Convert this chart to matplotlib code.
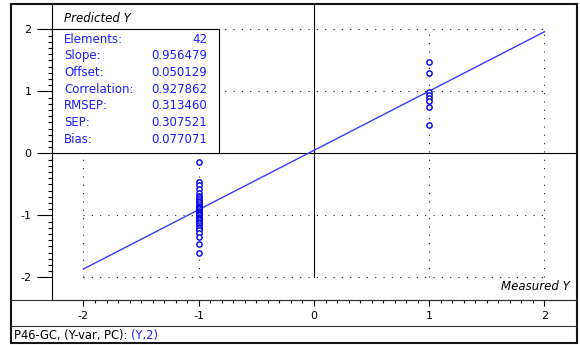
# Predicted vs measured plot for the P46-GC model (Y-var, PC 2)
import numpy as np
import matplotlib
matplotlib.use("Agg")
import matplotlib.pyplot as plt
from matplotlib.patches import Rectangle
from matplotlib.lines import Line2D
from matplotlib.ticker import FixedLocator

# measured class values and predicted Y per sample
meas_neg = -1.0
pred_neg = [-0.14, -0.46, -0.51, -0.57, -0.63, -0.68, -0.71, -0.74, -0.77, -0.79,
            -0.82, -0.84, -0.86, -0.88, -0.90, -0.92, -0.94, -0.96, -0.98, -1.00,
            -1.02, -1.04, -1.06, -1.08, -1.10, -1.12, -1.15, -1.18, -1.21, -1.24,
            -1.28, -1.34, -1.46, -1.60]
meas_pos = 1.0
pred_pos = [1.48, 1.30, 0.99, 0.95, 0.90, 0.85, 0.75, 0.46]

stat_names = ["Elements:", "Slope:", "Offset:", "Correlation:", "RMSEP:", "SEP:", "Bias:"]
stat_vals = ["42", "0.956479", "0.050129", "0.927862", "0.313460", "0.307521", "0.077071"]
slope = float(stat_vals[1])
offset = float(stat_vals[2])

ticks = [-2, -1, 0, 1, 2]
footer_a = "P46-GC, (Y-var, PC): "
footer_b = "(Y,2)"

BLUE = "#1c1cff"
W, H = 580, 345

plt.rcParams.update({"font.family": "DejaVu Sans", "font.size": 8})
fig = plt.figure(figsize=(W / 100, H / 100), dpi=100)

# main axes, placed in pixels
L, R, T, B = 52, 577, 4, 300
ax = fig.add_axes([L / W, (H - B) / H, (R - L) / W, (B - T) / H])
xmin, xmax = -2.273, 2.282
ymin, ymax = -2.363, 2.41
ax.set_xlim(xmin, xmax)
ax.set_ylim(ymin, ymax)

for s in ["top", "right"]:
    ax.spines[s].set_visible(False)
ax.spines["left"].set_linewidth(0.8)
ax.spines["left"].set_color("black")
ax.spines["bottom"].set_linewidth(0.8)
ax.spines["bottom"].set_color("#333333")

minor = [t / 10 for t in range(-20, 21) if t % 10 != 0]
ax.xaxis.set_major_locator(FixedLocator(ticks))
ax.yaxis.set_major_locator(FixedLocator(ticks))
ax.xaxis.set_minor_locator(FixedLocator(minor))
ax.yaxis.set_minor_locator(FixedLocator(minor))
ax.set_xticklabels([str(t) for t in ticks])
ax.set_yticklabels([str(t) for t in ticks])
ax.tick_params(axis="x", which="major", direction="out", length=4.3, width=0.8, pad=3.4, labelsize=8)
ax.tick_params(axis="x", which="minor", direction="out", length=2.2, width=0.8)
ax.tick_params(axis="y", which="major", direction="out", length=10.8, width=0.8, pad=4.0, labelsize=8)
ax.tick_params(axis="y", which="minor", direction="out", length=2.9, width=0.8)

# dotted grid inside [-2, 2]
dots = (0, (1, 6.5))
for g in [-2, -1, 1, 2]:
    ax.plot([-2, 2], [g, g], color="#222222", lw=0.8, ls=dots, zorder=1)
    ax.plot([g, g], [-2, 2], color="#222222", lw=0.8, ls=dots, zorder=1)

# zero lines
ax.axhline(0, color="black", lw=0.8, zorder=2)
ax.plot([0, 0], [-2, ymax], color="black", lw=0.8, zorder=2)

# regression line
xs = np.array([-2.0, 2.0])
ax.plot(xs, offset + slope * xs, color="#3a3aff", lw=1.0, zorder=3)

# samples
ax.plot([meas_neg] * len(pred_neg), pred_neg, "o", mfc="white", mec="#0000ee",
        ms=3.8, mew=1.0, zorder=4, clip_on=False)
ax.plot([meas_pos] * len(pred_pos), pred_pos, "o", mfc="white", mec="#0000ee",
        ms=3.8, mew=1.0, zorder=4, clip_on=False)

# statistics box
bx = (219 - L) / (R - L) * (xmax - xmin)
ax.add_patch(Rectangle((xmin, 0), bx, 2, facecolor="white", edgecolor="black",
                       lw=0.8, zorder=5, clip_on=False))
for i, (n, v) in enumerate(zip(stat_names, stat_vals)):
    yb = 42.7 + i * 16.67
    fy = (B - yb) / (B - T)
    ax.text((64 - L) / (R - L), fy, n, transform=ax.transAxes, color=BLUE,
            fontsize=8.5, va="baseline", ha="left", zorder=6)
    ax.text((207 - L) / (R - L), fy, v, transform=ax.transAxes, color=BLUE,
            fontsize=8.5, va="baseline", ha="right", zorder=6)

# axis titles
ax.text((64 - L) / (R - L), (B - 22) / (B - T), "Predicted Y", transform=ax.transAxes,
        fontsize=8.5, style="italic", va="baseline", ha="left")
ax.text((570 - L) / (R - L), (B - 290) / (B - T), "Measured Y", transform=ax.transAxes,
        fontsize=8.5, style="italic", va="baseline", ha="right")

# panel separators and outer frame
fig.add_artist(Line2D([11 / W, 577 / W], [(H - 300) / H] * 2, color="#333333", lw=0.8))
fig.add_artist(Line2D([11 / W, 577 / W], [(H - 326) / H] * 2, color="#333333", lw=0.8))
fig.add_artist(Rectangle((11 / W, (H - 343) / H), (577 - 11) / W, (343 - 4) / H,
                         fill=False, edgecolor="#151515", lw=1.5))

t1 = fig.text(14 / W, (H - 339.5) / H, footer_a, fontsize=8.3, va="baseline", ha="left")
ax.annotate(footer_b, xy=(1, 0), xycoords=t1, va="bottom", ha="left",
            fontsize=8.3, color=BLUE, annotation_clip=False)

fig.savefig("out.png", dpi=100)
